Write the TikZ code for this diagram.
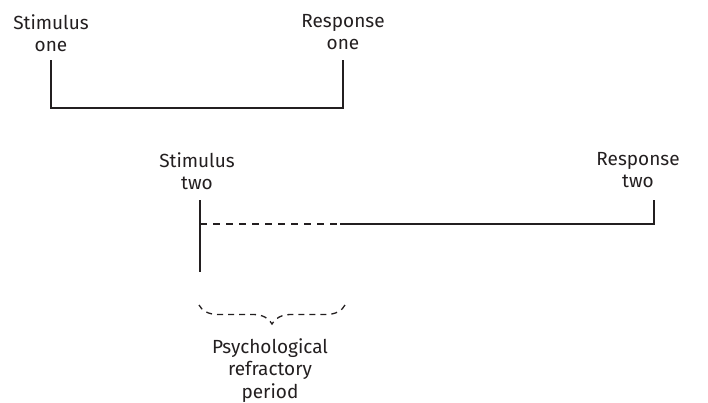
\documentclass[tikz,border=0pt]{standalone}
\usepackage{fontspec}
\setmainfont{Fira Sans}
\usetikzlibrary{decorations.pathreplacing}
\definecolor{ink}{HTML}{231F20}
\begin{document}
\begin{tikzpicture}[x=1pt,y=-1pt,
  lbl/.style={align=center, font=\fontsize{19}{22.5}\selectfont, inner sep=0pt, text=ink, anchor=north},
  ln/.style={line width=1.4pt, draw=ink},
  dsh/.style={line width=1.4pt, draw=ink, dash pattern=on 7pt off 6pt}]
\useasboundingbox (0,0) rectangle (708,402);
\node[lbl] (s1) at (51,14) {Stimulus\\one};
\node[lbl] (r1) at (343,14) {Response\\one};
\node[lbl] (s2) at (197,152) {Stimulus\\two};
\node[lbl] (r2) at (638,152) {Response\\two};
\node[lbl] (prp) at (270,338) {Psychological\\refractory\\period};
\coordinate (s1t) at (51,60);
\coordinate (s1b) at (51,108);
\coordinate (r1t) at (343,60);
\coordinate (r1b) at (343,108);
\draw[ln] (s1t) -- (s1b) -- (r1b) -- (r1t);
\coordinate (s2t) at (200,200);
\coordinate (s2b) at (200,272);
\coordinate (s2m) at (200,224);
\coordinate (dend) at (340,224);
\coordinate (r2m) at (654,224);
\coordinate (r2t) at (654,200);
\draw[ln] (s2t) -- (s2b);
\draw[dsh] (s2m) -- (dend);
\draw[ln] (dend) -- (r2m) -- (r2t);
\coordinate (bl) at (199,305);
\coordinate (br) at (345,305);
\draw[ln, line width=1.3pt, dash pattern=on 6pt off 5pt, decorate, decoration={brace, amplitude=19pt}] (br) -- (bl);
\end{tikzpicture}
\end{document}
